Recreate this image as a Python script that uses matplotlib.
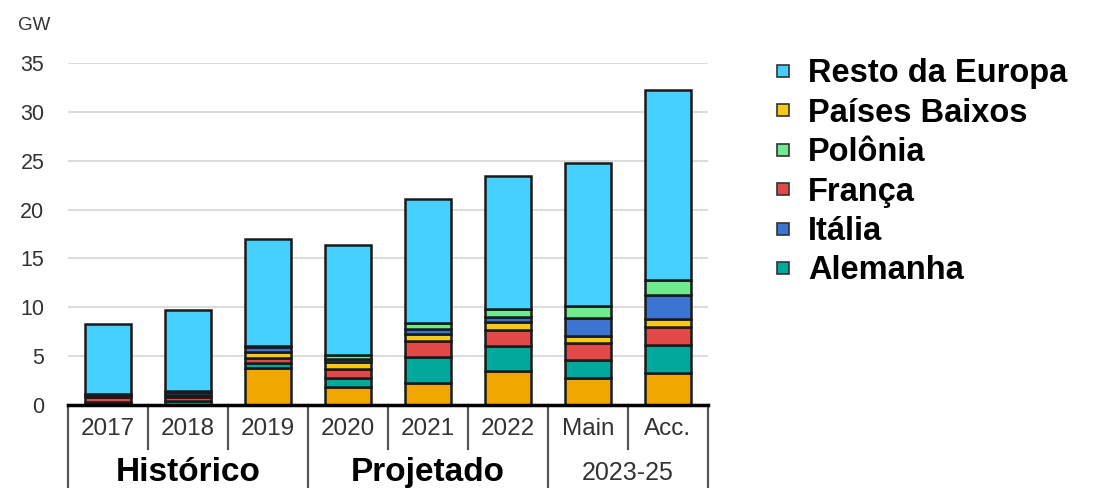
import matplotlib

matplotlib.use("Agg")
import matplotlib.pyplot as plt  # noqa: E402
from matplotlib.lines import Line2D  # noqa: E402
import numpy as np  # noqa: E402

plt.rcParams["font.family"] = ["Liberation Sans", "DejaVu Sans"]

categories = ["2017", "2018", "2019", "2020", "2021", "2022", "Main", "Acc."]
groups = ["Histórico", "Projetado", "2023-25"]
group_spans = [(0, 2), (3, 5), (6, 7)]

# GW per year, stacked bottom -> top
sem_legenda = [0.0, 0.0, 3.75, 1.85, 2.3, 3.5, 2.75, 3.3]
alemanha = [0.3, 0.4, 0.5, 0.9, 2.65, 2.5, 1.85, 2.85]
franca = [0.5, 0.45, 0.55, 0.95, 1.55, 1.65, 1.7, 1.85]
paises_baixos = [0.0, 0.15, 0.65, 0.75, 0.75, 0.8, 0.75, 0.85]
italia = [0.2, 0.35, 0.5, 0.3, 0.5, 0.55, 1.85, 2.4]
polonia = [0.1, 0.1, 0.05, 0.35, 0.6, 0.85, 1.2, 1.55]
resto_europa = [7.2, 8.25, 11.0, 11.3, 12.75, 13.6, 14.7, 19.4]

stack = [
    (sem_legenda, "#F0A800", None),
    (alemanha, "#00A99B", "Alemanha"),
    (franca, "#E24A4A", "França"),
    (paises_baixos, "#F6C817", "Países Baixos"),
    (italia, "#3C74D2", "Itália"),
    (polonia, "#6EEB8E", "Polônia"),
    (resto_europa, "#46D0FF", "Resto da Europa"),
]
legend_order = ["Resto da Europa", "Países Baixos", "Polônia", "França", "Itália", "Alemanha"]

W, H = 1103, 488
fig = plt.figure(figsize=(W / 100, H / 100), dpi=100)
ax = fig.add_axes([68 / W, (H - 405) / H, 640 / W, 342 / H])

x = np.arange(len(categories))
bottom = np.zeros(len(categories))
colors = {}
for vals, color, name in stack:
    ax.bar(x, vals, bottom=bottom, width=0.58, color=color,
           edgecolor="#1a1a1a", linewidth=1.8, zorder=3)
    bottom += np.array(vals)
    if name:
        colors[name] = color

ax.set_xlim(-0.5, len(categories) - 0.5)
ax.set_ylim(0, 35)
ax.set_yticks(range(0, 36, 5))
ax.yaxis.grid(True, color="#dcdcdc", linewidth=1.5, zorder=0)
ax.tick_params(axis="y", length=0, pad=17, labelsize=15.5, labelcolor="#333333")
ax.set_xticks([])
for side in ("left", "right", "top"):
    ax.spines[side].set_visible(False)
ax.spines["bottom"].set_linewidth(2.5)
ax.spines["bottom"].set_color("black")
ax.spines["bottom"].set_zorder(5)
ax.text(-0.028, 1.11, "GW", transform=ax.transAxes, ha="right", va="center",
        fontsize=13.5, color="#333333")

# category table under the axis
tr = ax.get_xaxis_transform()
row1, row2 = -0.13, -0.245
for i, cat in enumerate(categories):
    ax.text(i, row1 / 2 - 0.005, cat, transform=tr, ha="center", va="center",
            fontsize=17.5, color="#333333")
for b in [0.5, 1.5, 3.5, 4.5, 6.5]:
    ax.plot([b, b], [0, row1], transform=tr, color="#555555", lw=1.6, clip_on=False)
for b in [-0.5, 2.5, 5.5, 7.5]:
    ax.plot([b, b], [0, row2], transform=tr, color="#555555", lw=1.6, clip_on=False)
for (a, b), g in zip(group_spans, groups):
    bold = g != "2023-25"
    ax.text((a + b) / 2, (row1 + row2) / 2 - 0.01, g, transform=tr, ha="center",
            va="center", fontsize=24 if bold else 18,
            fontweight="bold" if bold else "normal",
            color="black" if bold else "#333333")

handles = [
    Line2D([], [], marker="s", linestyle="none", markersize=8,
           markerfacecolor=colors[n], markeredgecolor="#333333", markeredgewidth=1.2)
    for n in legend_order
]
fig.legend(handles, legend_order, loc="upper left", bbox_to_anchor=(754 / W, 1 - 45 / H),
           frameon=False, prop={"size": 23.5, "weight": "bold"}, labelspacing=0.26,
           handletextpad=0.25, handlelength=1.0, borderaxespad=0)

fig.savefig("out.png", dpi=100)
plt.close(fig)
